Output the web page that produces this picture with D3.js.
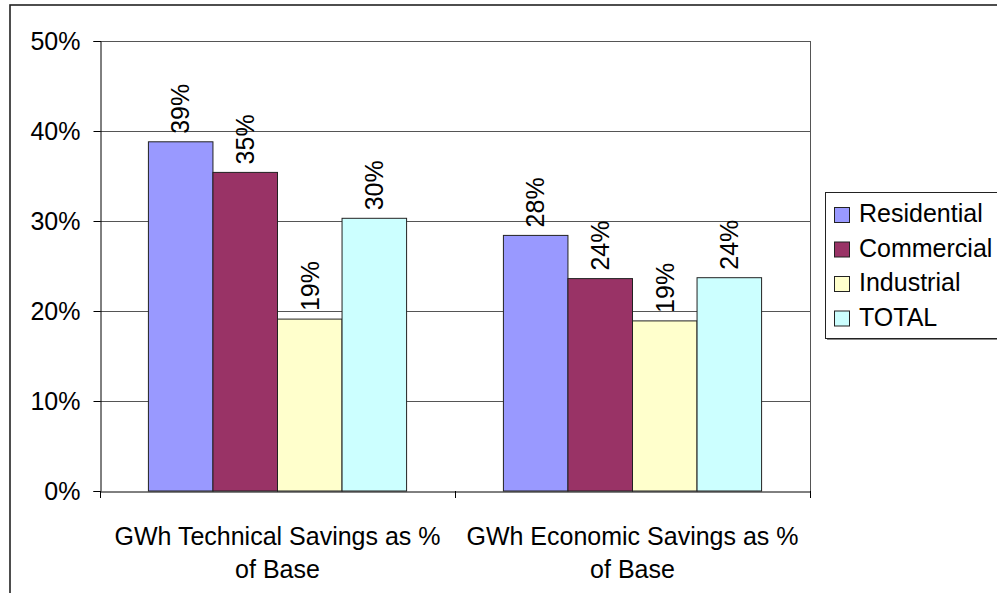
<!DOCTYPE html>
<html>
<head>
<meta charset="UTF-8">
<script src="https://d3js.org/d3.v7.min.js"></script>
<style>
  body { margin: 0; background: #fff; }
  svg text { font-family: "Liberation Sans", Arial, sans-serif; fill: #000; }
</style>
</head>
<body>
<svg class="Chart"></svg>
<script>
// chart values
var Categories = ["GWh Technical Savings as % of Base", "GWh Economic Savings as % of Base"];
var SeriesNames = ["Residential", "Commercial", "Industrial", "TOTAL"];
var Residential = [0.388, 0.284];
var Commercial = [0.354, 0.236];
var Industrial = [0.191, 0.189];
var Total = [0.303, 0.237];
var YTicks = [0, 0.1, 0.2, 0.3, 0.4, 0.5];

var SeriesValues = [Residential, Commercial, Industrial, Total];
var Colors = ["#9999FF", "#993366", "#FFFFCC", "#CCFFFF"];

var Width = 997, Height = 593;
var Plot = {Left: 100, Top: 41, Right: 810, Bottom: 491};
var FontSize = 25;

var svg = d3.select(".Chart").attr("width", Width).attr("height", Height);

// outer chart frame (runs off the picture right and bottom)
svg.append("rect")
  .attr("x", 10).attr("y", 5)
  .attr("width", 1100).attr("height", 700)
  .attr("fill", "#fff").attr("stroke", "#222").attr("stroke-width", 1.6);

var X0 = d3.scaleBand().domain(Categories).range([Plot.Left, Plot.Right]);
var X1 = d3.scaleBand().domain(SeriesNames).range([0, X0.bandwidth()]).paddingOuter(0.75);
var Y = d3.scaleLinear().domain([0, 0.5]).range([Plot.Bottom, Plot.Top]);

// gridlines
svg.append("g")
  .selectAll("line").data(YTicks.slice(1)).join("line")
  .attr("x1", Plot.Left).attr("x2", Plot.Right)
  .attr("y1", function(d){ return Math.round(Y(d)) + 0.5; })
  .attr("y2", function(d){ return Math.round(Y(d)) + 0.5; })
  .attr("stroke", "#555").attr("stroke-width", 1);

// right border of plot area
svg.append("line")
  .attr("x1", Plot.Right + 0.5).attr("x2", Plot.Right + 0.5)
  .attr("y1", Plot.Top).attr("y2", Plot.Bottom)
  .attr("stroke", "#555");

// bars
var Groups = svg.append("g").selectAll("g").data(Categories).join("g")
  .attr("transform", function(d){ return "translate(" + X0(d) + ",0)"; });

Groups.selectAll("rect")
  .data(function(d, i){ return SeriesNames.map(function(s, j){ return {s: s, v: SeriesValues[j][i], c: Colors[j]}; }); })
  .join("rect")
  .attr("x", function(d){ return X1(d.s); })
  .attr("y", function(d){ return Y(d.v); })
  .attr("width", X1.bandwidth())
  .attr("height", function(d){ return Plot.Bottom - Y(d.v); })
  .attr("fill", function(d){ return d.c; })
  .attr("stroke", "#222").attr("stroke-width", 1);

// value labels, rotated
Groups.selectAll("text")
  .data(function(d, i){ return SeriesNames.map(function(s, j){ return {s: s, v: SeriesValues[j][i]}; }); })
  .join("text")
  .attr("transform", function(d){
    return "translate(" + (X1(d.s) + X1.bandwidth() / 2) + "," + (Y(d.v) - 8) + ") rotate(-90)";
  })
  .attr("dy", "0.35em")
  .style("font-size", FontSize + "px")
  .text(function(d){ return Math.round(d.v * 100) + "%"; });

// y axis
var YAxis = d3.axisLeft(Y).tickValues(YTicks).tickFormat(d3.format(".0%")).tickSize(7).tickPadding(13);
svg.append("g")
  .attr("transform", "translate(" + (Plot.Left + 0.5) + ",0)")
  .call(YAxis)
  .call(function(g){
    g.selectAll("text").style("font-size", FontSize + "px").attr("fill", "#000");
    g.selectAll("line, path").attr("stroke", "#000");
  });

// x axis: ticks at category boundaries
var XAxis = d3.axisBottom(X0).tickSize(0).tickPadding(0).tickFormat("");
svg.append("g")
  .attr("transform", "translate(0," + (Plot.Bottom + 0.5) + ")")
  .call(XAxis)
  .call(function(g){ g.select(".domain").attr("stroke", "#000"); });

var Bounds = [Plot.Left, X0(Categories[1]), Plot.Right];
svg.append("g").selectAll("line").data(Bounds).join("line")
  .attr("x1", function(d){ return Math.round(d) + 0.5; })
  .attr("x2", function(d){ return Math.round(d) + 0.5; })
  .attr("y1", Plot.Bottom).attr("y2", Plot.Bottom + 7)
  .attr("stroke", "#000");

// category labels, wrapped to band width
svg.append("g").selectAll("text").data(Categories).join("text")
  .attr("x", function(d){ return X0(d) + X0.bandwidth() / 2; })
  .attr("y", 545)
  .attr("text-anchor", "middle")
  .style("font-size", FontSize + "px")
  .each(function(d){
    var el = d3.select(this), words = d.split(" "), line = [], lineNo = 0;
    var tspan = el.append("tspan").attr("x", el.attr("x")).attr("dy", 0);
    words.forEach(function(w){
      line.push(w);
      tspan.text(line.join(" "));
      if (tspan.node().getComputedTextLength() > X0.bandwidth() - 4 && line.length > 1) {
        line.pop();
        tspan.text(line.join(" "));
        line = [w];
        lineNo++;
        tspan = el.append("tspan").attr("x", el.attr("x")).attr("dy", "1.33em").text(w);
      }
    });
  });

// legend
var Legend = {X: 825, Y: 192, W: 200, H: 146};
svg.append("rect")
  .attr("x", Legend.X + 2).attr("y", Legend.Y + 2)
  .attr("width", Legend.W).attr("height", Legend.H)
  .attr("fill", "#888");
svg.append("rect")
  .attr("x", Legend.X + 0.5).attr("y", Legend.Y + 0.5)
  .attr("width", Legend.W).attr("height", Legend.H)
  .attr("fill", "#fff").attr("stroke", "#222").attr("stroke-width", 1);

var Items = svg.append("g").selectAll("g").data(SeriesNames).join("g")
  .attr("transform", function(d, i){ return "translate(" + Legend.X + "," + (Legend.Y + 30 + i * 34.5) + ")"; });
Items.append("rect")
  .attr("x", 9.5).attr("y", -14.5).attr("width", 15).attr("height", 15)
  .attr("fill", function(d, i){ return Colors[i]; })
  .attr("stroke", "#222");
Items.append("text")
  .attr("x", 34).attr("y", 0)
  .style("font-size", FontSize + "px")
  .text(function(d){ return d; });
</script>
</body>
</html>
